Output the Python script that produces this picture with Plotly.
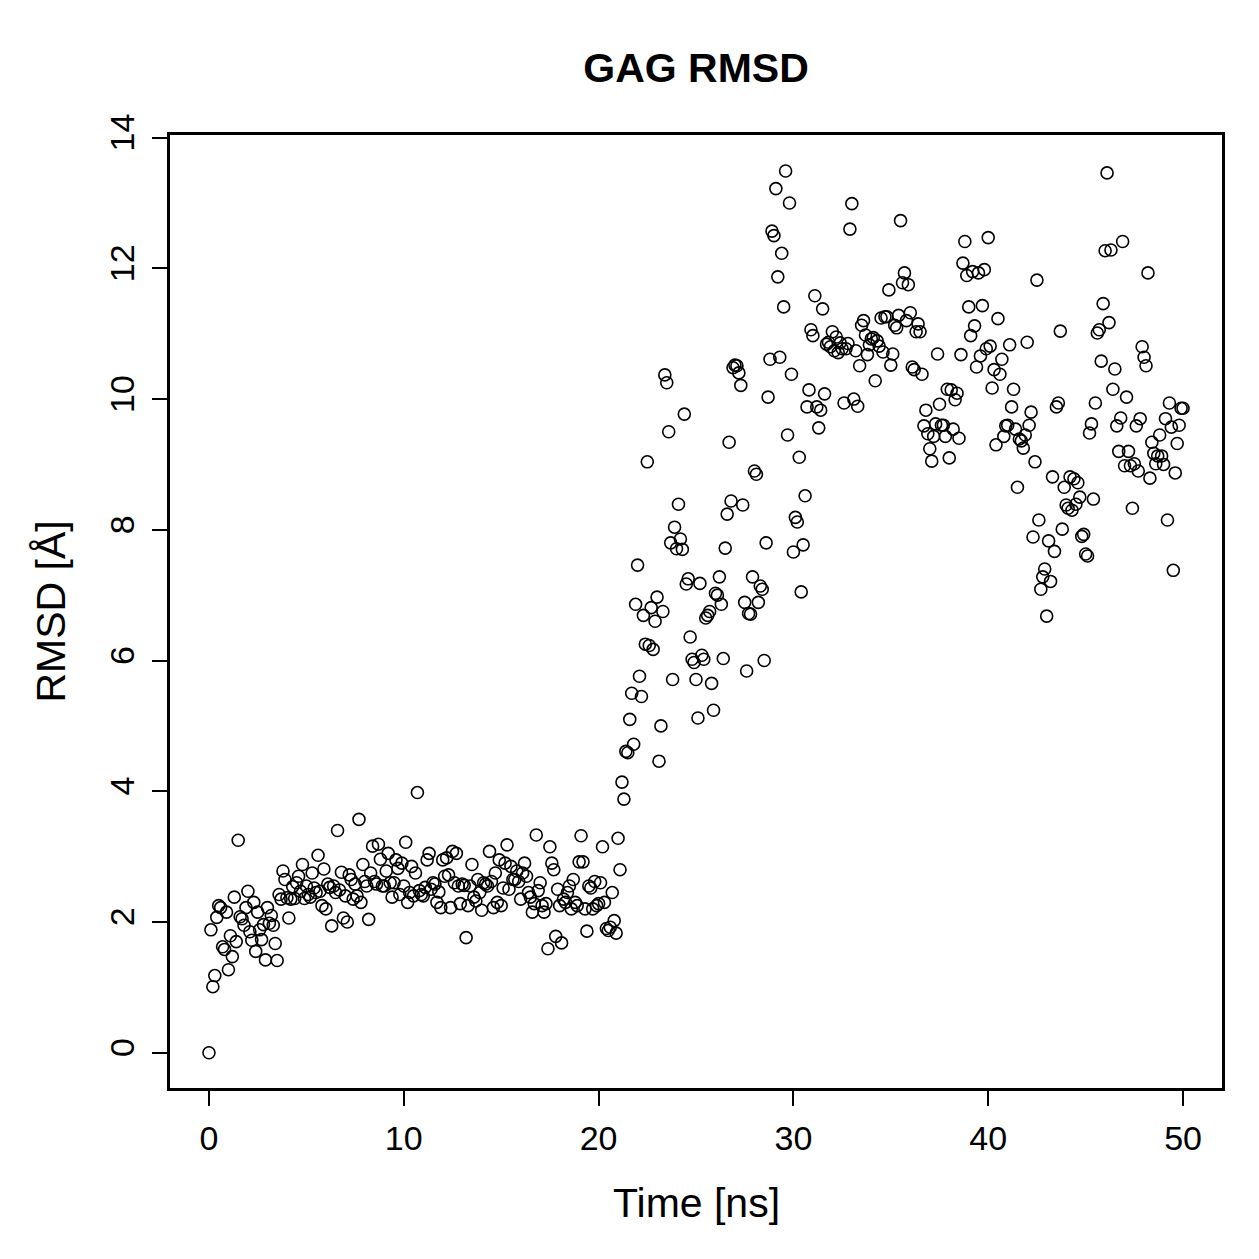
import numpy as np
import plotly.graph_objects as go

# RMSD values (Å), one per 0.1 ns from 0.0 to 50.0 ns
rmsd_00_10 = [
    0.00, 1.88, 1.01, 1.18, 2.07, 2.25, 2.22, 1.62, 1.58, 2.15,
    1.27, 1.79, 1.47, 2.38, 1.70, 3.25, 2.08, 2.05, 1.95, 2.22,
    2.47, 1.85, 1.72, 2.30, 1.55, 2.15, 1.88, 1.73, 1.96, 1.42,
    2.22, 1.98, 2.10, 1.95, 1.67, 1.41, 2.42, 2.35, 2.78, 2.65,
    2.37, 2.06, 2.35, 2.54, 2.36, 2.60, 2.70, 2.47, 2.88, 2.36,
    2.55, 2.42, 2.38, 2.75, 2.52, 2.45, 3.02, 2.47, 2.25, 2.81,
    2.20, 2.58, 2.53, 1.94, 2.55, 2.45, 3.40, 2.49, 2.76, 2.06,
    2.40, 2.00, 2.72, 2.65, 2.35, 2.58, 2.40, 3.57, 2.30, 2.88,
    2.62, 2.55, 2.04, 2.75, 3.16, 2.62, 2.58, 3.19, 2.96, 2.55,
    2.55, 2.78, 3.05, 2.60, 2.38, 2.60, 2.95, 2.82, 2.42, 2.90,
]
rmsd_10_20 = [
    2.55, 3.22, 2.30, 2.45, 2.85, 2.40, 2.75, 3.98, 2.48, 2.42,
    2.40, 2.53, 2.95, 3.05, 2.50, 2.60, 2.58, 2.30, 2.46, 2.22,
    2.95, 2.70, 2.98, 2.72, 2.22, 3.08, 2.60, 3.05, 2.55, 2.28,
    2.58, 2.56, 1.76, 2.25, 2.55, 2.88, 2.38, 2.32, 2.65, 2.45,
    2.18, 2.60, 2.58, 2.55, 3.08, 2.62, 2.22, 2.75, 2.30, 2.95,
    2.25, 2.52, 2.90, 3.18, 2.50, 2.85, 2.65, 2.65, 2.78, 2.62,
    2.35, 2.75, 2.90, 2.70, 2.45, 2.38, 2.15, 2.28, 3.33, 2.48,
    2.60, 2.25, 2.15, 2.28, 1.59, 3.15, 2.90, 2.80, 1.78, 2.50,
    2.25, 1.68, 2.35, 2.30, 2.45, 2.55, 2.20, 2.65, 2.30, 2.25,
    2.92, 3.32, 2.92, 2.20, 1.86, 2.55, 2.52, 2.20, 2.62, 2.25,
]
rmsd_20_30 = [
    2.28, 2.60, 3.15, 2.30, 1.90, 1.87, 1.92, 2.45, 2.02, 1.83,
    3.28, 2.80, 4.14, 3.88, 4.61, 4.59, 5.10, 5.50, 4.72, 6.86,
    7.46, 5.76, 5.45, 6.69, 6.25, 9.04, 6.23, 6.81, 6.17, 6.60,
    6.97, 4.46, 5.00, 6.75, 10.37, 10.25, 9.50, 7.80, 5.71, 8.04,
    7.71, 8.39, 7.86, 7.70, 9.77, 7.17, 7.25, 6.36, 6.02, 5.97,
    5.71, 5.12, 7.18, 6.08, 6.02, 6.65, 6.69, 6.75, 5.65, 5.24,
    7.03, 7.00, 7.28, 6.86, 6.03, 7.72, 8.24, 9.34, 8.44, 10.48,
    10.52, 10.51, 10.40, 10.21, 8.38, 6.89, 5.84, 6.72, 6.71, 7.28,
    8.90, 8.85, 6.89, 7.14, 7.09, 6.00, 7.80, 10.03, 10.61, 12.57,
    12.50, 13.22, 11.87, 10.64, 12.23, 11.41, 13.49, 9.45, 13.00, 10.38,
]
rmsd_30_40 = [
    7.66, 8.19, 8.12, 9.11, 7.05, 7.77, 8.52, 9.88, 10.14, 11.06,
    10.97, 11.58, 9.88, 9.56, 9.83, 11.38, 10.08, 10.84, 10.87, 10.80,
    11.03, 10.74, 10.95, 10.71, 10.86, 10.77, 9.94, 10.77, 10.85, 12.60,
    12.99, 10.00, 10.74, 9.89, 10.51, 11.13, 11.20, 10.98, 10.68, 10.83,
    10.92, 10.94, 10.28, 10.89, 10.81, 11.24, 10.72, 11.26, 11.26, 11.67,
    10.52, 10.69, 11.13, 11.09, 11.28, 12.73, 11.78, 11.93, 11.20, 11.75,
    11.32, 10.49, 10.45, 11.03, 11.15, 11.03, 10.38, 9.59, 9.83, 9.47,
    9.24, 9.05, 9.43, 9.62, 10.69, 9.92, 9.60, 9.60, 9.43, 10.15,
    9.10, 10.14, 9.54, 9.99, 10.09, 9.40, 10.68, 12.08, 12.41, 11.89,
    11.41, 10.97, 11.95, 11.12, 10.49, 11.93, 10.66, 11.43, 11.98, 10.77,
]
rmsd_40_50 = [
    12.47, 10.81, 10.17, 10.45, 9.30, 11.23, 10.38, 10.61, 9.43, 9.59,
    9.60, 10.83, 9.88, 10.15, 9.54, 8.65, 9.39, 9.36, 9.25, 9.45,
    10.87, 9.60, 9.80, 7.89, 9.04, 11.82, 8.15, 7.09, 7.28, 7.40,
    6.68, 7.83, 7.21, 8.81, 7.67, 9.88, 9.94, 11.04, 8.01, 8.65,
    8.38, 8.33, 8.81, 8.30, 8.78, 8.39, 8.72, 8.50, 7.90, 7.93,
    7.63, 7.60, 9.48, 9.62, 8.47, 9.94, 11.01, 11.06, 10.58, 11.46,
    12.27, 13.46, 11.17, 12.28, 10.15, 10.46, 9.59, 9.20, 9.71, 12.41,
    8.98, 10.03, 9.20, 8.98, 8.33, 9.01, 9.59, 8.90, 9.70, 10.80,
    10.64, 10.51, 11.93, 8.79, 9.34, 9.17, 9.01, 9.13, 9.45, 9.13,
    9.00, 9.70, 8.15, 9.94, 9.57, 7.38, 8.87, 9.32, 9.60, 9.86,
    9.86,
]

rmsd = rmsd_00_10 + rmsd_10_20 + rmsd_20_30 + rmsd_30_40 + rmsd_40_50
time_ns = [round(0.1 * i, 1) for i in range(len(rmsd))]

x_ticks = [0, 10, 20, 30, 40, 50]
y_ticks = [0, 2, 4, 6, 8, 10, 12, 14]

FONT = "Liberation Sans, Arial, Helvetica, sans-serif"

fig = go.Figure()
fig.add_trace(go.Scatter(
    x=time_ns, y=rmsd, mode="markers",
    marker=dict(symbol="circle-open", size=12, color="black",
                line=dict(color="black", width=1.6)),
    showlegend=False,
))

axis_common = dict(
    showgrid=False, zeroline=False,
    showline=True, mirror=True, linecolor="black", linewidth=2.5,
    ticks="outside", ticklen=15, tickwidth=2.2, tickcolor="black",
    tickfont=dict(family=FONT, size=34, color="black"),
)

fig.update_layout(
    width=1259, height=1259,
    margin=dict(l=170, r=37, t=135, b=171),
    paper_bgcolor="white", plot_bgcolor="white",
    title=dict(text="<b>GAG RMSD</b>", x=(170 + 1222) / 2 / 1259, xanchor="center",
               y=1 - 68 / 1259, yanchor="middle", yref="container",
               font=dict(family=FONT, size=41, color="black")),
    xaxis=dict(range=[-2, 52], tickvals=x_ticks, ticktext=[str(v) for v in x_ticks],
               ticklabelstandoff=3, **axis_common),
    yaxis=dict(range=[-0.54, 14.04], tickvals=y_ticks, ticktext=[str(v) for v in y_ticks],
               tickangle=-90, ticklabelstandoff=5, **axis_common),
    annotations=[
        dict(text="Time [ns]", xref="paper", yref="paper", x=0.5, y=(1088 - 1203) / 953,
             xanchor="center", yanchor="middle", showarrow=False,
             font=dict(family=FONT, size=41, color="black")),
        dict(text="RMSD [Å]", xref="paper", yref="paper", x=(50 - 170) / 1052, y=0.5,
             xanchor="center", yanchor="middle", showarrow=False, textangle=-90,
             font=dict(family=FONT, size=41, color="black")),
    ],
)

fig.write_html("out.html")
